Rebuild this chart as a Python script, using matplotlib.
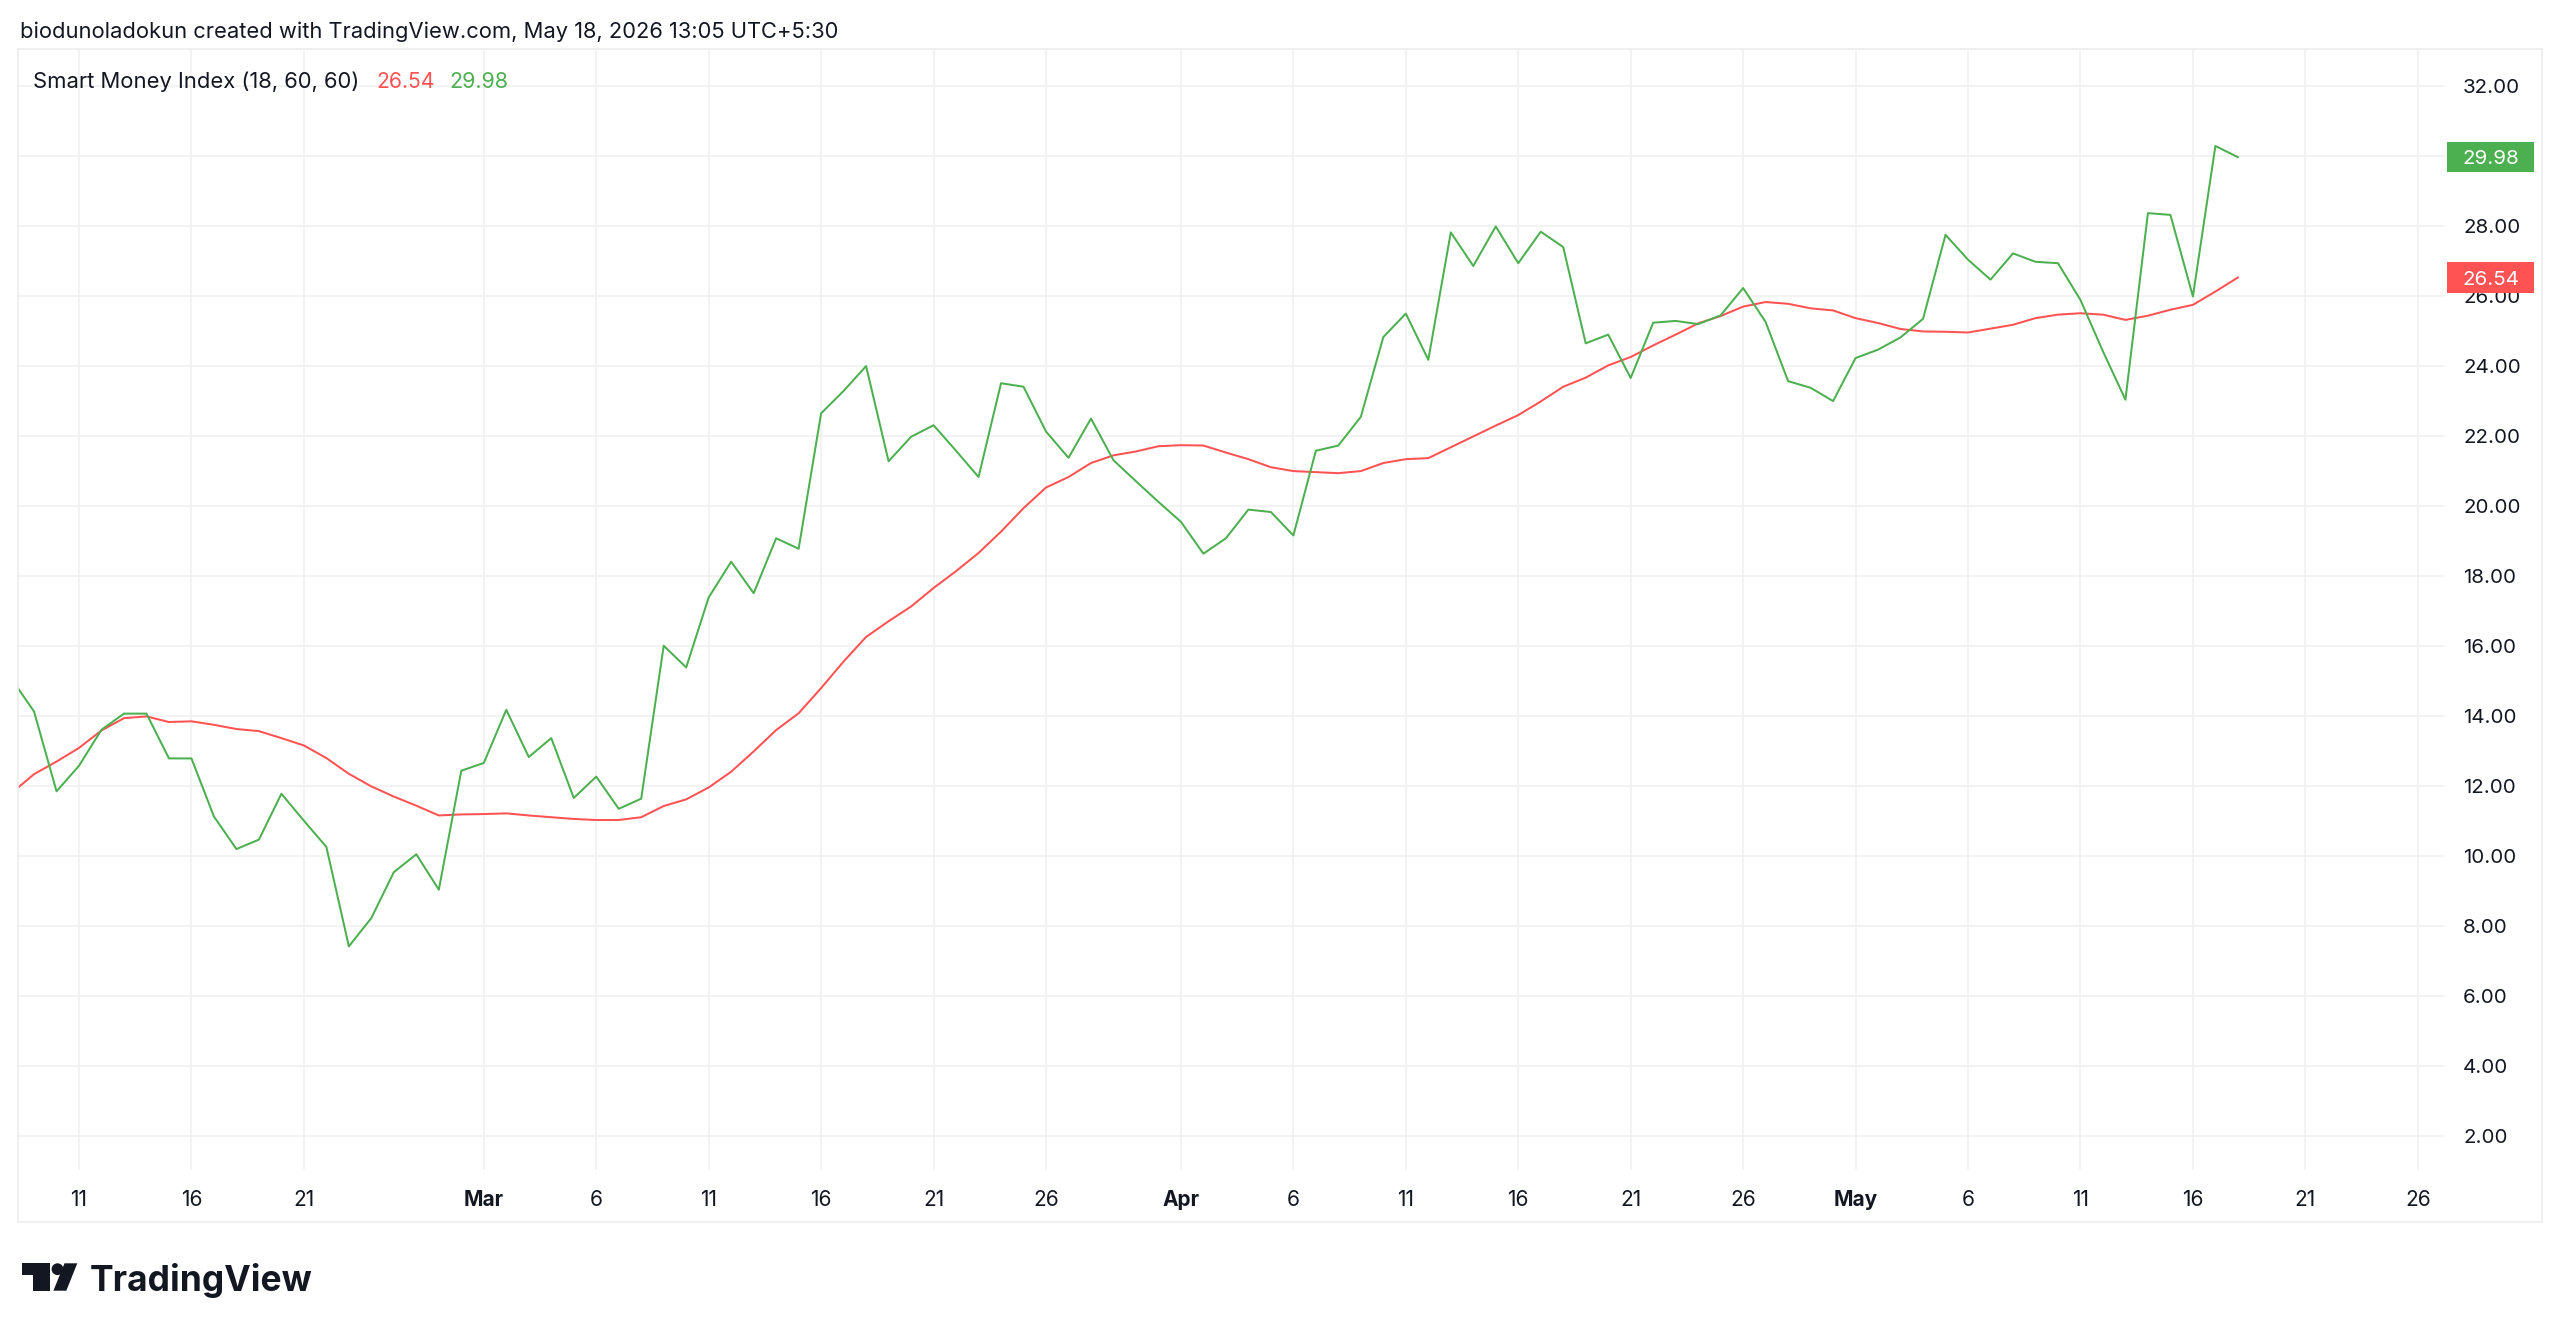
import numpy as np
import pandas as pd
import matplotlib
matplotlib.use('Agg')
import matplotlib.pyplot as plt
import matplotlib.dates as mdates
from matplotlib.patches import Rectangle, Polygon, Circle

plt.rcParams['font.family'] = ['Inter', 'DejaVu Sans']

# ---------------- data ----------------
dates = pd.date_range('2026-02-08', '2026-05-18', freq='D')

smi = [
    # Feb 8 - Feb 28
    15.07, 14.14, 11.86, 12.59, 13.62, 14.08, 14.08, 12.80, 12.80, 11.14, 10.21,
    10.48, 11.79, 11.02, 10.27, 7.43, 8.24, 9.55, 10.06, 9.05, 12.45,
    # Mar 1 - Mar 31
    12.67, 14.19, 12.84, 13.38, 11.67, 12.28, 11.36, 11.65, 16.02, 15.40,
    17.40, 18.42, 17.52, 19.09, 18.79, 22.66, 23.30, 24.01, 21.29, 21.99,
    22.32, 21.59, 20.84, 23.52, 23.42, 22.14, 21.39, 22.51, 21.32, 20.72, 20.13,
    # Apr 1 - Apr 30
    19.56, 18.65, 19.09, 19.91, 19.84, 19.17, 21.59, 21.74, 22.56, 24.84,
    25.51, 24.19, 27.83, 26.87, 28.00, 26.95, 27.85, 27.41, 24.66, 24.91,
    23.67, 25.25, 25.30, 25.21, 25.46, 26.24, 25.27, 23.58, 23.39, 23.01,
    # May 1 - May 18
    24.24, 24.48, 24.83, 25.36, 27.76, 27.05, 26.48, 27.23, 26.99, 26.95,
    25.90, 24.43, 23.05, 28.38, 28.33, 26.00, 30.30, 29.98,
]

signal = [
    # Feb 8 - Feb 28
    11.81, 12.35, 12.71, 13.10, 13.60, 13.95, 14.00, 13.84, 13.86, 13.76, 13.64,
    13.58, 13.38, 13.17, 12.81, 12.36, 12.00, 11.71, 11.45, 11.17, 11.20,
    # Mar 1 - Mar 31
    11.21, 11.23, 11.17, 11.12, 11.07, 11.04, 11.04, 11.12, 11.44, 11.63,
    11.97, 12.42, 13.00, 13.61, 14.09, 14.81, 15.57, 16.27, 16.72, 17.14,
    17.67, 18.15, 18.67, 19.28, 19.95, 20.54, 20.84, 21.24, 21.46, 21.57, 21.72,
    # Apr 1 - Apr 30
    21.75, 21.74, 21.54, 21.35, 21.12, 21.01, 20.98, 20.95, 21.01, 21.24,
    21.35, 21.38, 21.69, 22.00, 22.31, 22.61, 23.00, 23.42, 23.68, 24.03,
    24.27, 24.60, 24.91, 25.23, 25.44, 25.71, 25.84, 25.79, 25.66, 25.60,
    # May 1 - May 18
    25.38, 25.24, 25.07, 25.00, 24.99, 24.97, 25.08, 25.19, 25.38, 25.48,
    25.52, 25.48, 25.33, 25.45, 25.62, 25.76, 26.14, 26.54,
]

y_ticks = list(range(2, 33, 2))
y_tick_labels = [f"{v:.2f}" for v in y_ticks]

x_tick_dates = ['2026-02-11', '2026-02-16', '2026-02-21', '2026-03-01', '2026-03-06',
                '2026-03-11', '2026-03-16', '2026-03-21', '2026-03-26', '2026-04-01',
                '2026-04-06', '2026-04-11', '2026-04-16', '2026-04-21', '2026-04-26',
                '2026-05-01', '2026-05-06', '2026-05-11', '2026-05-16', '2026-05-21',
                '2026-05-26']
x_tick_labels = ['11', '16', '21', 'Mar', '6', '11', '16', '21', '26', 'Apr',
                 '6', '11', '16', '21', '26', 'May', '6', '11', '16', '21', '26']
month_labels = ['Mar', 'Apr', 'May']

header = "biodunoladokun created with TradingView.com, May 18, 2026 13:05 UTC+5:30"
legend_name = "Smart Money Index (18, 60, 60)"

GREEN = '#4CAF50'
RED = '#FF5252'
TXT = '#131722'
GRID = '#f0f0f1'

# ---------------- figure ----------------
W, H = 2560, 1333
fig = plt.figure(figsize=(W / 100, H / 100), dpi=100)
fig.patch.set_facecolor('white')

L, R, T, B = 18, 2445, 49, 1170
ax = fig.add_axes([L / W, 1 - B / H, (R - L) / W, (B - T) / H])

ax.plot(dates, signal, color=RED, lw=1.45, zorder=3, solid_joinstyle='round')
ax.plot(dates, smi, color=GREEN, lw=1.45, zorder=4, solid_joinstyle='round')

d0 = mdates.date2num(pd.Timestamp('2026-02-11'))
ax.set_xlim(d0 - 2.713, d0 + 105.21)
ax.set_ylim(1.04, 33.07)

ax.set_yticks(y_ticks)
ax.set_yticklabels(y_tick_labels)
ax.yaxis.tick_right()
ax.tick_params(axis='y', length=0, pad=13, labelsize=14.8, labelcolor=TXT)

ax.set_xticks([mdates.date2num(pd.Timestamp(d)) for d in x_tick_dates])
ax.set_xticklabels(x_tick_labels)
ax.tick_params(axis='x', length=0, pad=14.2, labelsize=15.0, labelcolor=TXT)
for lbl in ax.get_xticklabels():
    if lbl.get_text() in month_labels:
        lbl.set_fontweight('bold')

for sp in ax.spines.values():
    sp.set_visible(False)
ax.grid(True, color=GRID, lw=1.1)
ax.set_axisbelow(True)

# price labels on the scale
ytr = ax.get_yaxis_transform()
box_x0 = (2447.3 - L) / (R - L)
box_w = (2534 - 2447.3) / (R - L)
txt_x = (2463 - L) / (R - L)
unit_px = (B - T) / (33.07 - 1.04)
box_h = 30.7 / unit_px
for val, col in [(smi[-1], GREEN), (signal[-1], RED)]:
    ax.add_patch(Rectangle((box_x0, val - box_h / 2), box_w, box_h, transform=ytr,
                           facecolor=col, edgecolor='none', clip_on=False, zorder=10))
    ax.text(txt_x, val, f"{val:.2f}", transform=ytr, ha='left', va='center_baseline',
            color='white', fontsize=14.8, zorder=11, clip_on=False)

# ---------------- overlay (header, legend, border, logo) ----------------
ov = fig.add_axes([0, 0, 1, 1])
ov.set_xlim(0, W)
ov.set_ylim(H, 0)
ov.axis('off')

renderer = fig.canvas.get_renderer()


def fit_text(x, y, s, width, **kw):
    t = ov.text(x, y, s, fontsize=20, **kw)
    w = t.get_window_extent(renderer).width
    t.set_fontsize(20 * width / w)
    return t


fit_text(20, 30, header, 818, color=TXT, ha='left', va='center_baseline')
fit_text(33.3, 80, legend_name, 327, color=TXT, ha='left', va='center_baseline')
fit_text(376, 80, f"{signal[-1]:.2f}", 58.6, color=RED, ha='left', va='center_baseline')
fit_text(449, 80, f"{smi[-1]:.2f}", 59, color=GREEN, ha='left', va='center_baseline')

# outer chart border
ov.add_patch(Rectangle((18, 49), 2541.7 - 18, 1221.7 - 49, facecolor='none',
                       edgecolor='#ececee', lw=1.2))

# TradingView logo
LOGO = '#131722'
ov.add_patch(Polygon([(22.3, 1263.3), (50, 1263.3), (50, 1290.7), (33.3, 1290.7),
                      (33.3, 1275), (22.3, 1275)], closed=True, facecolor=LOGO, edgecolor='none'))
ov.add_patch(Circle((57.5, 1269.2), 5.9, facecolor=LOGO, edgecolor='none'))
ov.add_patch(Polygon([(64.5, 1263.3), (77.3, 1263.3), (66.3, 1290.7), (53.4, 1290.7)],
                     closed=True, facecolor=LOGO, edgecolor='none'))
fit_text(90, 1290.7, "TradingView", 223, color=LOGO, ha='left', va='baseline',
         fontweight='bold')

fig.savefig('out.png', dpi=100, facecolor='white')
